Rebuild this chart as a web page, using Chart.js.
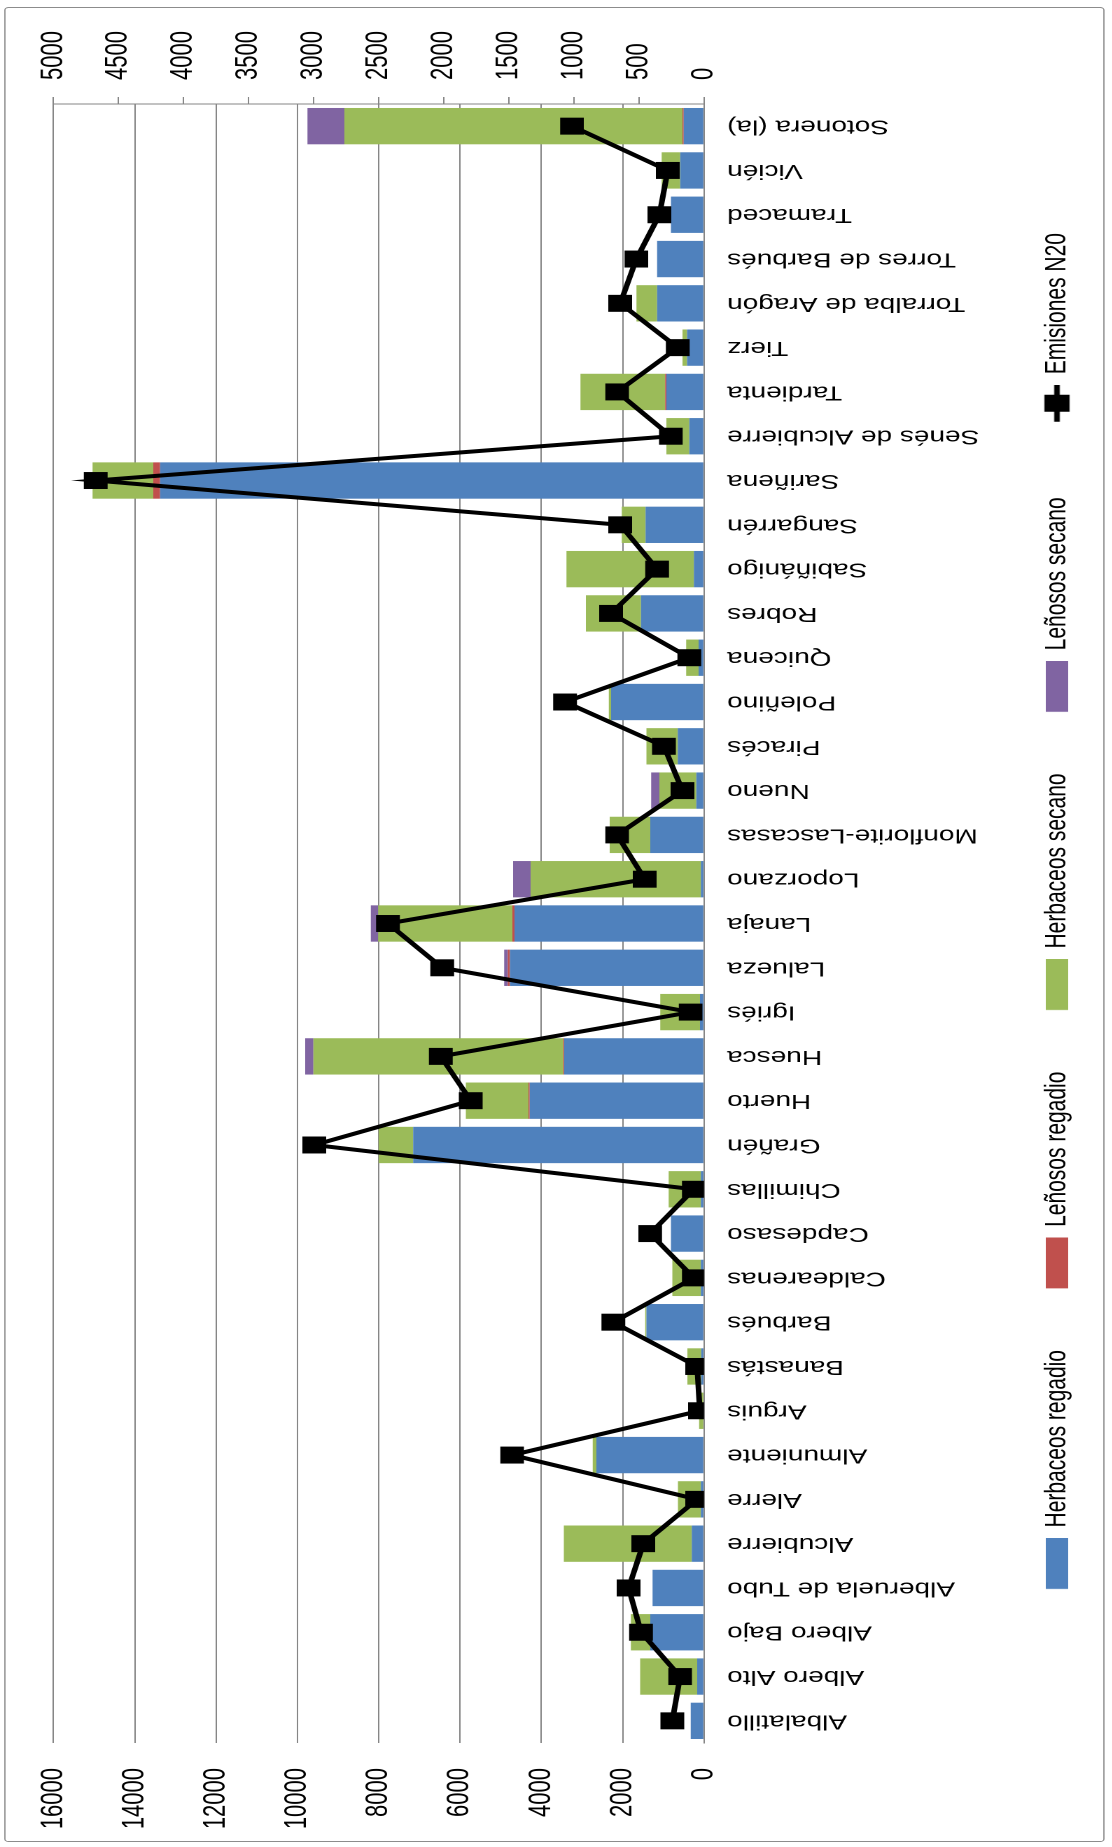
<!DOCTYPE html>
<html lang="es">
<head>
<meta charset="utf-8">
<title>Emisiones N2O por municipio</title>
<script src="https://cdn.jsdelivr.net/npm/chart.js@4.4.0/dist/chart.umd.min.js"></script>
<style>
  html, body { margin: 0; padding: 0; background: #fff; overflow: hidden; }
  body { width: 1112px; height: 1847px; position: relative; }
  /* The chart is laid out as a column chart, then turned a quarter turn
     counter-clockwise and widened along its value direction. */
  #frame {
    position: absolute; left: 0; top: 0;
    width: 1847px; height: 794px;
    transform-origin: 0 0;
    transform: translate(0px, 1847px) rotate(-90deg) scale(1, 1.4);
  }
  #border {
    position: absolute; left: 5px; top: 3px; width: 1835px; height: 786px;
    border: 1px solid #8c8c8c; border-radius: 3px; box-sizing: border-box;
  }
  #c { position: absolute; left: 0; top: 0; }
</style>
</head>
<body>
<div id="frame">
  <div id="border"></div>
  <canvas id="c" width="1847" height="794"></canvas>
</div>
<script>
// Municipalities
const categories = [
  'Albalatillo', 'Albero Alto', 'Albero Bajo', 'Alberuela de Tubo', 'Alcubierre',
  'Alerre', 'Almuniente', 'Arguis', 'Banastás', 'Barbués', 'Caldearenas',
  'Capdesaso', 'Chimillas', 'Grañén', 'Huerto', 'Huesca', 'Igriés', 'Lalueza',
  'Lanaja', 'Loporzano', 'Monflorite-Lascasas', 'Nueno', 'Piracés', 'Poleñino',
  'Quicena', 'Robres', 'Sabiñánigo', 'Sangarrén', 'Sariñena',
  'Senés de Alcubierre', 'Tardienta', 'Tierz', 'Torralba de Aragón',
  'Torres de Barbués', 'Tramaced', 'Vicién', 'Sotonera (la)'
];

// Surface by crop type (primary axis)
const herbaceosRegadio = [
  328, 170, 1324, 1267, 300, 80, 2648, 20, 70, 1415, 80, 815, 80, 7152, 4289,
  3440, 100, 4775, 4662, 79, 1324, 192, 645, 2286, 136, 1550, 249, 1437, 13376,
  362, 928, 419, 1154, 1154, 815, 588, 500
];
const lenososRegadio = [
  0, 0, 0, 0, 0, 0, 0, 0, 0, 0, 0, 0, 0, 0, 30,
  20, 0, 50, 50, 0, 0, 0, 0, 0, 0, 0, 0, 0, 170,
  0, 30, 0, 0, 0, 0, 0, 30
];
const herbaceosSecano = [
  0, 1403, 475, 0, 3150, 560, 90, 100, 340, 30, 700, 0, 790, 849, 1539,
  6145, 975, 0, 3304, 4187, 996, 905, 770, 57, 306, 1358, 3135, 588, 1494,
  566, 2082, 110, 509, 0, 0, 453, 8317
];
const lenososSecano = [
  0, 0, 0, 0, 0, 0, 0, 0, 0, 0, 0, 0, 0, 0, 0,
  204, 0, 90, 181, 430, 0, 204, 0, 0, 0, 0, 0, 0, 0,
  0, 0, 0, 0, 0, 0, 0, 905
];

// N2O emissions (secondary axis)
const emisionesN2O = [
  244, 184, 484, 580, 467, 53, 1475, 32, 53, 697, 78, 414, 78, 2995, 1793,
  2023, 103, 2012, 2429, 456, 668, 166, 308, 1068, 113, 714, 361, 644, 4675,
  255, 668, 202, 644, 520, 343, 279, 1015
];

const seriesNames = ['Herbaceos regadio', 'Leñosos regadio', 'Herbaceos secano', 'Leñosos secano', 'Emisiones N20'];
const seriesColors = ['#4F81BD', '#C0504D', '#9BBB59', '#8064A2', '#000000'];

const FONT = '"Liberation Sans", Arial, sans-serif';
Chart.defaults.font.family = FONT;
Chart.defaults.color = '#000';

// Legend icons: each has some blank lead-in so the items sit apart,
// then a wide colour swatch, or a line with a square marker
const LEAD = 25;
const ICON_W = LEAD + 51;
function swatch(color) {
  const c = document.createElement('canvas');
  c.width = ICON_W; c.height = 16;
  const g = c.getContext('2d');
  g.fillStyle = color;
  g.fillRect(LEAD, 0, 51, 16);
  return c;
}
function lineIcon() {
  const c = document.createElement('canvas');
  c.width = ICON_W; c.height = 20;
  const g = c.getContext('2d');
  g.strokeStyle = '#000';
  g.lineWidth = 4;
  g.beginPath(); g.moveTo(LEAD + 14, 10); g.lineTo(ICON_W, 10); g.stroke();
  g.fillStyle = '#000';
  g.fillRect(LEAD + 24, 1, 17, 18);
  return c;
}
const legendIcons = [swatch(seriesColors[0]), swatch(seriesColors[1]), swatch(seriesColors[2]), swatch(seriesColors[3]), lineIcon()];

function barSet(i, values) {
  return {
    type: 'bar', label: seriesNames[i], data: values,
    backgroundColor: seriesColors[i], borderWidth: 0,
    yAxisID: 'y', barPercentage: 0.82, categoryPercentage: 1.0, order: 1
  };
}

const plain = v => String(v);

new Chart(document.getElementById('c'), {
  data: {
    labels: categories,
    datasets: [
      barSet(0, herbaceosRegadio),
      barSet(1, lenososRegadio),
      barSet(2, herbaceosSecano),
      barSet(3, lenososSecano),
      {
        type: 'line', label: seriesNames[4], data: emisionesN2O, yAxisID: 'y2',
        borderColor: '#000', backgroundColor: '#000', borderWidth: 4, tension: 0,
        pointStyle: 'rect', pointRadius: 12, pointBackgroundColor: '#000',
        pointBorderWidth: 0, order: -1
      }
    ]
  },
  options: {
    responsive: false,
    devicePixelRatio: 2,
    animation: false,
    events: [],
    layout: { padding: { left: 0, right: 0, top: 32, bottom: 18.5 } },
    plugins: {
      tooltip: { enabled: false },
      legend: {
        position: 'bottom',
        labels: {
          usePointStyle: true,
          pointStyleWidth: ICON_W,
          padding: 36.6,
          font: { size: 21 },
          color: '#000',
          generateLabels(chart) {
            return chart.data.datasets.map((ds, i) => ({
              text: ds.label,
              pointStyle: legendIcons[i],
              fillStyle: ds.backgroundColor,
              strokeStyle: ds.backgroundColor,
              lineWidth: 0,
              hidden: !chart.isDatasetVisible(i),
              datasetIndex: i,
              fontColor: '#000'
            }));
          }
        }
      }
    },
    scales: {
      x: {
        stacked: true,
        grid: { display: false },
        border: { display: true, color: '#868686', width: 1 },
        ticks: {
          autoSkip: false, minRotation: 90, maxRotation: 90, padding: 8.5,
          color: '#000', font: { size: 20 }
        },
        afterFit(s) { s.height = 205; }
      },
      y: {
        stacked: true, min: 0, max: 16000,
        grid: { color: '#868686', lineWidth: 1, drawTicks: false },
        border: { display: false },
        ticks: { stepSize: 2000, padding: 25, color: '#000', font: { size: 22 }, callback: plain },
        afterFit(s) { s.width = 104; }
      },
      y2: {
        position: 'right', min: 0, max: 5000,
        grid: { drawOnChartArea: false, drawTicks: true, tickLength: 7, color: '#868686' },
        border: { display: true, color: '#868686', width: 1 },
        ticks: { stepSize: 500, padding: 17, color: '#000', font: { size: 22 }, callback: plain },
        afterFit(s) { s.width = 104; }
      }
    }
  }
});
</script>
</body>
</html>
